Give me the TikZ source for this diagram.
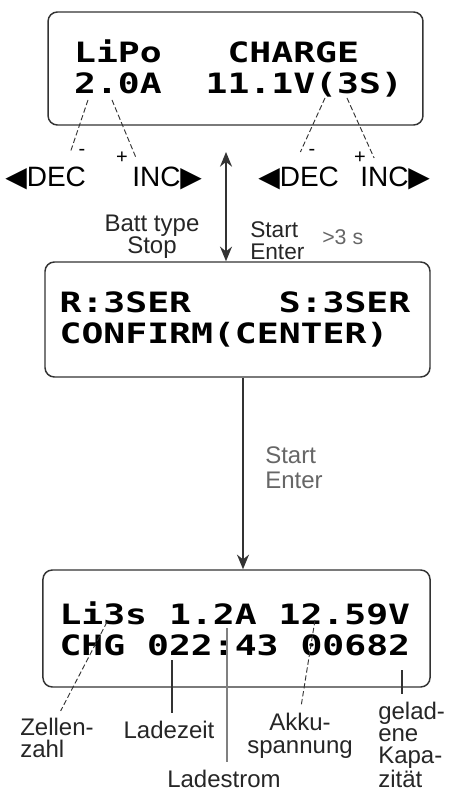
\documentclass[tikz,border=0pt]{standalone}
\usepackage{fontspec}
\setmainfont{Liberation Sans}
\newfontfamily\lcdfont[FakeStretch=1.3]{DejaVu Sans Mono}
\newfontfamily\symfont{DejaVu Sans}
\usepackage{tikz}
\usetikzlibrary{arrows.meta, positioning}
\definecolor{lcdgray}{HTML}{333333}
\definecolor{hintgray}{HTML}{666666}
\newcommand\lcdgap{\hphantom{0}}

\begin{document}
\begin{tikzpicture}[
  x=0.75pt, y=-0.75pt,
  >={Stealth[length=11pt,width=9pt]},
  lcd/.style={draw=lcdgray, line width=1.1pt, rounded corners=7pt, fill=white,
              align=left, inner ysep=0pt,
              font=\lcdfont\bfseries\fontsize{21}{23.5}\selectfont},
  key/.style={font=\fontsize{21}{21}\selectfont, inner sep=0pt, anchor=base west},
  sign/.style={font=\fontsize{15}{15}\selectfont, inner xsep=6pt, inner ysep=0pt},
  note/.style={font=\fontsize{18}{16.5}\selectfont, inner sep=0pt, text=black!85},
  leader/.style={line width=0.7pt, color=lcdgray, dash pattern=on 4pt off 2pt, shorten >=6pt},
  pointer/.style={line width=0.8pt, color=lcdgray, shorten >=6pt},
  arrow/.style={->, line width=1.2pt, color=lcdgray},
]
  \useasboundingbox (0,0) rectangle (449,791);

  % the three screens
  \node[lcd, text width=242pt, inner xsep=19.6pt, minimum height=84.75pt] (setup) at (235.5,68.5)
    {LiPo\lcdgap\lcdgap\lcdgap{}CHARGE\\2.0A\lcdgap\lcdgap{}11.1V(3S)};
  \node[lcd, text width=266.75pt, inner xsep=11pt, minimum height=86.25pt] (confirm) at (237.5,319.5)
    {R:3SER\lcdgap\lcdgap\lcdgap\lcdgap{}S:3SER\\CONFIRM(CENTER)};
  \node[lcd, text width=265.5pt, inner xsep=12.4pt, minimum height=87.75pt] (charging) at (236.5,628.5)
    {Li3s\lcdgap{}1.2A\lcdgap{}12.59V\\CHG\lcdgap{}022:43\lcdgap{}00682};

  % keys under the first screen
  \node[key] (decA) at (5,187) {{\symfont ◀}DEC};
  \node[key] (incA) at (132,187) {INC{\symfont ▶}};
  \node[key] (decB) at (258,187) {{\symfont ◀}DEC};
  \node[key] (incB) at (360,187) {INC{\symfont ▶}};
  \node[sign] (minusA) at (82,152) {-};
  \node[sign] (plusA) at (122,158) {+};
  \node[sign] (minusB) at (312,152) {-};
  \node[sign] (plusB) at (360,158) {+};

  \coordinate (ampDec) at (88,100);
  \coordinate (ampInc) at (112,100);
  \coordinate (voltDec) at (325,98);
  \coordinate (voltInc) at (347,98);
  \draw[leader, shorten >=0pt] (ampDec) -- (minusA.west);
  \draw[leader, shorten >=0pt] (ampInc) -- (plusA.east);
  \draw[leader, shorten >=0pt] (voltDec) -- (minusB.west);
  \draw[leader, shorten >=0pt] (voltInc) -- (plusB.east);

  % mode change
  \coordinate (modeTop) at (226,152);
  \draw[arrow, <->] (modeTop) -- (modeTop |- confirm.north);
  \node[note, align=center, anchor=north] (batt) at (152,215) {Batt type\\Stop};
  \node[note, align=left, anchor=north west, font=\fontsize{17}{16.5}\selectfont] (startA) at (250,221) {Start\\Enter};
  \node[note, anchor=north west, text=hintgray, font=\fontsize{16}{16}\selectfont] (hold) at (322,229) {>3 s};

  % start charging
  \coordinate (flow) at (243,0);
  \draw[arrow] (confirm.south -| flow) -- (charging.north -| flow);
  \node[note, align=left, anchor=north west, text=hintgray, font=\fontsize{18}{18.75}\selectfont] (startB) at (265,446) {Start\\Enter};

  % meaning of the status fields
  \node[note, align=left, anchor=north west, font=\fontsize{18}{16.5}\selectfont] (zellen) at (20,718) {Zellen-\\zahl};
  \node[note, anchor=north] (ladezeit) at (169,721) {Ladezeit};
  \node[note, anchor=north] (ladestrom) at (224,770) {Ladestrom};
  \node[note, align=center, anchor=north, font=\fontsize{18}{17}\selectfont] (akku) at (300,713) {Akku-\\spannung};
  \node[note, align=left, anchor=north west] (kap) at (378,702) {gelad-\\ene\\Kapa-\\zität};

  \coordinate (cellPt) at (107,622);
  \coordinate (timePt) at (172,660);
  \coordinate (currPt) at (227,628);
  \coordinate (voltPt) at (315,620);
  \coordinate (capPt) at (402,670);
  \draw[leader] (cellPt) -- (zellen.north);
  \draw[pointer] (timePt) -- (timePt |- ladezeit.north);
  \draw[pointer, color=gray, line width=1pt] (currPt) -- (currPt |- ladestrom.north);
  \draw[leader] (voltPt) -- (akku.north);
  \draw[pointer] (capPt) -- (capPt |- kap.north);
\end{tikzpicture}
\end{document}
